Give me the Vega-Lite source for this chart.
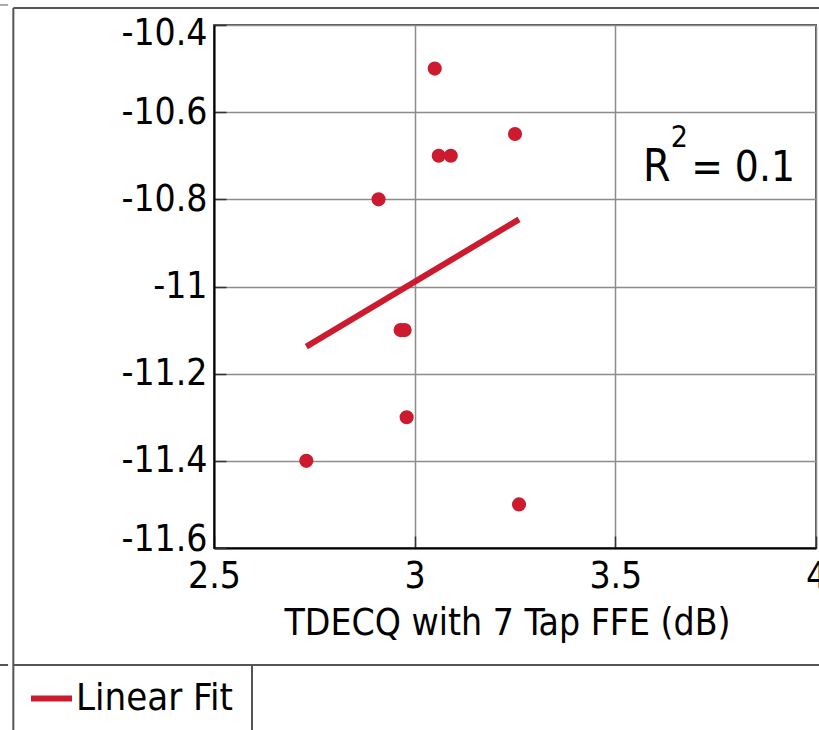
{
  "$schema": "https://vega.github.io/schema/vega-lite/v6.json",
  "width": 602,
  "height": 523,
  "autosize": {"type": "none"},
  "padding": {"left": 214, "top": 25, "right": 3, "bottom": 182},
  "background": "white",
  "config": {
    "font": "DejaVu Sans Condensed, Liberation Sans",
    "view": {"stroke": "#555", "strokeWidth": 2},
    "locale": {"number": {"decimal": ".", "thousands": ",", "grouping": [3], "currency": ["$", ""], "minus": "-"}}
  },
  "datasets": {
    "points": [
      {"tdecq": 3.05, "val": -10.5},
      {"tdecq": 3.06, "val": -10.7},
      {"tdecq": 3.09, "val": -10.7},
      {"tdecq": 3.25, "val": -10.65},
      {"tdecq": 2.91, "val": -10.8},
      {"tdecq": 2.965, "val": -11.1},
      {"tdecq": 2.975, "val": -11.1},
      {"tdecq": 2.98, "val": -11.3},
      {"tdecq": 2.73, "val": -11.4},
      {"tdecq": 3.26, "val": -11.5}
    ],
    "fit": [
      {"tdecq": 2.73, "val": -11.138, "series": "Linear Fit"},
      {"tdecq": 3.26, "val": -10.846, "series": "Linear Fit"}
    ],
    "one": [{}]
  },
  "layer": [
    {
      "data": {"name": "points"},
      "mark": {"type": "circle", "size": 200, "opacity": 1, "color": "#cc1a2e"},
      "encoding": {
        "x": {
          "field": "tdecq", "type": "quantitative",
          "scale": {"domain": [2.5, 4], "nice": false, "zero": false},
          "axis": {
            "values": [2.5, 3, 3.5, 4], "format": "~g",
            "title": "TDECQ with 7 Tap FFE (dB)", "titleX": 293,
            "titleFontSize": 37, "titleFontWeight": "normal", "titleColor": "#000", "titlePadding": 11,
            "labelFontSize": 37, "labelColor": "#000", "labelPadding": 22,
            "tickSize": -12, "tickColor": "#333", "tickWidth": 1.5,
            "domainColor": "#000", "domainWidth": 2,
            "grid": true, "gridColor": "#8c8c8c", "gridWidth": 1.5,
            "labelFlush": false, "labelOverlap": false, "labelBound": false
          }
        },
        "y": {
          "field": "val", "type": "quantitative",
          "scale": {"domain": [-11.6, -10.4], "nice": false, "zero": false},
          "axis": {
            "values": [-11.6, -11.4, -11.2, -11, -10.8, -10.6, -10.4], "format": "~g",
            "title": null,
            "labelFontSize": 37, "labelColor": "#000", "labelPadding": 19,
            "tickSize": -12, "tickColor": "#333", "tickWidth": 1.5,
            "domainColor": "#000", "domainWidth": 2,
            "grid": true, "gridColor": "#8c8c8c", "gridWidth": 1.5,
            "labelFlush": true, "labelFlushOffset": 10, "labelOverlap": false, "labelBound": false
          }
        }
      }
    },
    {
      "data": {"name": "fit"},
      "mark": {"type": "line", "strokeWidth": 6},
      "encoding": {
        "x": {"field": "tdecq", "type": "quantitative"},
        "y": {"field": "val", "type": "quantitative"},
        "color": {
          "field": "series", "type": "nominal",
          "scale": {"domain": ["Linear Fit"], "range": ["#cc1a2e"]},
          "legend": {
            "title": null, "orient": "none", "legendX": -186, "legendY": 650,
            "padding": 0, "symbolType": "stroke", "symbolSize": 1681, "symbolStrokeWidth": 6,
            "labelFontSize": 38, "labelColor": "#000", "labelOffset": 1, "labelLimit": 400
          }
        }
      }
    },
    {
      "data": {"name": "one"},
      "mark": {"type": "rule", "color": "#555", "strokeWidth": 2, "clip": false},
      "encoding": {"x": {"datum": 2.0}, "y": {"datum": -10.361}, "y2": {"datum": -12.2}}
    },
    {
      "data": {"name": "one"},
      "mark": {"type": "rule", "color": "#555", "strokeWidth": 2, "clip": false},
      "encoding": {"y": {"datum": -10.361}, "x": {"datum": 2.0}, "x2": {"datum": 4.05}}
    },
    {
      "data": {"name": "one"},
      "mark": {"type": "rule", "color": "#555", "strokeWidth": 2, "clip": false},
      "encoding": {"y": {"datum": -11.8685}, "x": {"datum": 2.0}, "x2": {"datum": 4.05}}
    },
    {
      "data": {"name": "one"},
      "mark": {"type": "rule", "color": "#555", "strokeWidth": 2, "clip": false},
      "encoding": {"x": {"datum": 2.5947}, "y": {"datum": -11.8685}, "y2": {"datum": -12.2}}
    },
    {
      "data": {"name": "one"},
      "mark": {"type": "rule", "color": "#555", "strokeWidth": 2, "clip": false},
      "encoding": {"y": {"datum": -11.8685}, "x": {"datum": 1.96}, "x2": {"datum": 1.987}}
    },
    {
      "data": {"name": "one"},
      "mark": {"type": "rule", "color": "#aaa", "strokeWidth": 2, "clip": false},
      "encoding": {"y": {"datum": -10.354}, "x": {"datum": 1.96}, "x2": {"datum": 1.987}}
    },
    {
      "data": {"name": "one"},
      "mark": {"type": "text", "text": "R", "fontSize": 44, "align": "left", "baseline": "alphabetic", "color": "#000"},
      "encoding": {"x": {"datum": 3.569}, "y": {"datum": -10.758}}
    },
    {
      "data": {"name": "one"},
      "mark": {"type": "text", "text": "2", "fontSize": 30, "align": "left", "baseline": "alphabetic", "color": "#000"},
      "encoding": {"x": {"datum": 3.638}, "y": {"datum": -10.68}}
    },
    {
      "data": {"name": "one"},
      "mark": {"type": "text", "text": "= 0.1", "fontSize": 42, "align": "left", "baseline": "alphabetic", "color": "#000"},
      "encoding": {"x": {"datum": 3.689}, "y": {"datum": -10.758}}
    }
  ]
}
